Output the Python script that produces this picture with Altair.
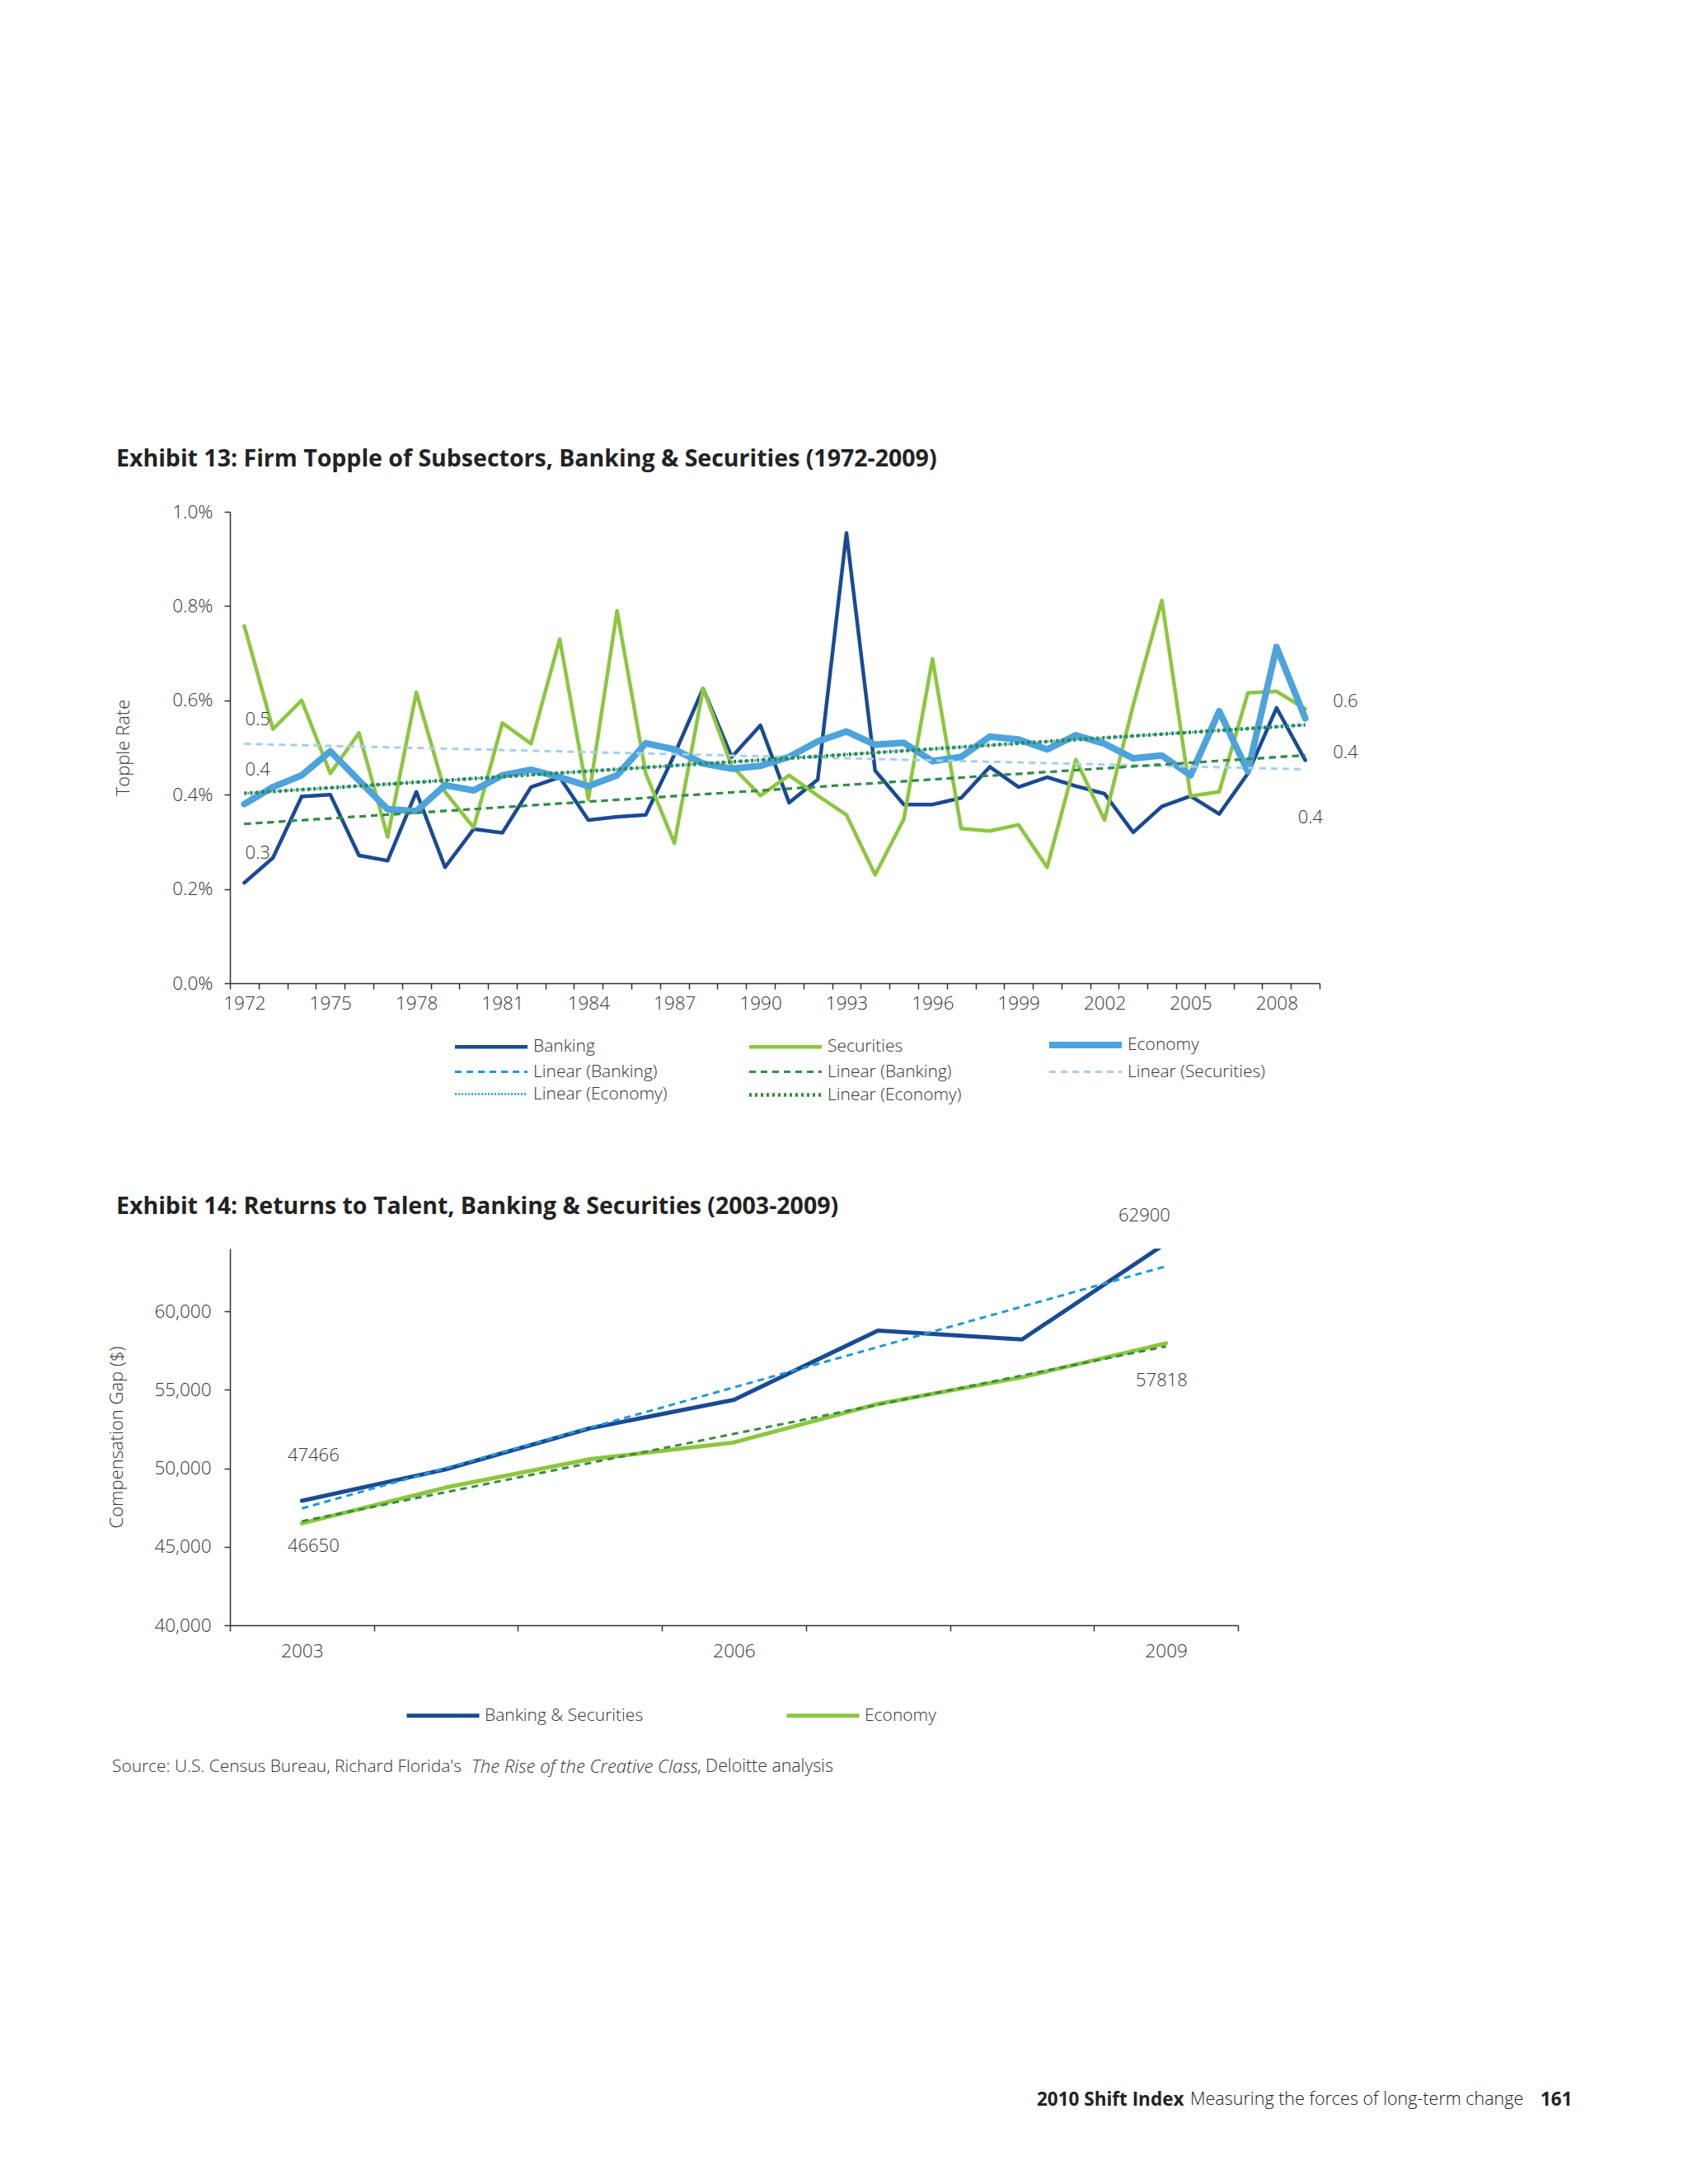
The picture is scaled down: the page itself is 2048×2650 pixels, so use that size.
import altair as alt
import pandas as pd

# ---------------- Exhibit 13: Firm Topple (1972-2009) ----------------
years13 = list(range(1972, 2010))
banking13 = [0.213, 0.266, 0.396, 0.400, 0.271, 0.260, 0.406, 0.246, 0.327, 0.319,
             0.416, 0.437, 0.346, 0.353, 0.357, 0.485, 0.625, 0.480, 0.547, 0.383,
             0.432, 0.955, 0.451, 0.379, 0.379, 0.393, 0.459, 0.416, 0.437, 0.418,
             0.402, 0.320, 0.375, 0.397, 0.359, 0.445, 0.584, 0.473]
securities13 = [0.758, 0.539, 0.600, 0.445, 0.531, 0.310, 0.617, 0.406, 0.330, 0.552,
                0.508, 0.730, 0.390, 0.790, 0.445, 0.297, 0.625, 0.461, 0.398, 0.441,
                0.398, 0.357, 0.230, 0.348, 0.688, 0.328, 0.323, 0.336, 0.246, 0.474,
                0.346, 0.590, 0.812, 0.397, 0.406, 0.616, 0.619, 0.582]
economy13 = [0.380, 0.416, 0.441, 0.492, 0.430, 0.369, 0.365, 0.420, 0.409, 0.441,
             0.453, 0.437, 0.418, 0.441, 0.509, 0.496, 0.466, 0.455, 0.461, 0.480,
             0.513, 0.534, 0.506, 0.510, 0.471, 0.480, 0.523, 0.517, 0.496, 0.526,
             0.508, 0.477, 0.483, 0.441, 0.577, 0.449, 0.713, 0.562]
label_years13 = [1972, 1975, 1978, 1981, 1984, 1987, 1990, 1993, 1996, 1999, 2002, 2005, 2008]
yticks13 = [0.0, 0.2, 0.4, 0.6, 0.8, 1.0]

keys13 = ["Banking", "Securities", "Economy",
          "Linear (Banking)|blue", "Linear (Banking)|green", "Linear (Securities)|blue",
          "Linear (Economy)|blue", "Linear (Economy)|green"]
colors13 = ["#1A4A93", "#8DC63F", "#4DA3DC", "#1E9AD6", "#3A8C3F", "#A7CFEA", "#1E9AD6", "#2F8A3B"]
dash13 = [[1, 0], [1, 0], [1, 0], [8, 6], [8, 6], [8, 6], [2, 2], [3, 4]]
width13 = [4.5, 4.5, 8, 3, 3, 3, 2.5, 4.5]

ann13_years = [1972.47, 1972.47, 1972.47, 2010.4, 2010.4, 2009.18]
ann13_values = [0.559, 0.453, 0.277, 0.598, 0.490, 0.352]
ann13_labels = ["0.5", "0.4", "0.3", "0.6", "0.4", "0.4"]

title13 = "Exhibit 13: Firm Topple of Subsectors, Banking & Securities (1972-2009)"

# ---------------- Exhibit 14: Returns to Talent (2003-2009) ----------------
years14 = list(range(2003, 2010))
bank14 = [47930, 49940, 52550, 54360, 58780, 58210, 64340]
econ14 = [46490, 48780, 50580, 51650, 54100, 55800, 57970]
label_years14 = [2003, 2006, 2009]
yticks14 = [40000, 45000, 50000, 55000, 60000]
keys14 = ["Banking & Securities", "Economy"]
colors14 = ["#1A4A93", "#8DC63F"]

ann14_years = [2003.08, 2003.08, 2008.85, 2008.97]
ann14_values = [50810, 45040, 66080, 55580]
ann14_labels = ["47466", "46650", "62900", "57818"]

title14 = "Exhibit 14: Returns to Talent, Banking & Securities (2003-2009)"
source_parts = ["Source: U.S. Census Bureau, Richard Florida's", "The Rise of the Creative Class", ", Deloitte analysis"]
footer_parts = ["2010 Shift Index", "Measuring the forces of long-term change", "161"]

FONT = "Open Sans"
TITLE_FONT = "Open Sans"
TXT = "#333333"
LIGHT = 300

# ---------------- build Exhibit 13 ----------------
rows = []
for name, vals in (("Banking", banking13), ("Securities", securities13), ("Economy", economy13)):
    for yr, v in zip(years13, vals):
        rows.append({"year": yr, "value": v, "series": name})
df13 = pd.DataFrame(rows)

edges13 = [y - 0.5 for y in years13] + [years13[-1] + 0.5]
X13 = alt.X("year:Q",
            scale=alt.Scale(domain=[edges13[0], edges13[-1]], nice=False, zero=False),
            axis=alt.Axis(values=edges13 + label_years13,
                          labelExpr="datum.value % 1 == 0 ? toString(datum.value) : ''",
                          tickOpacity={"condition": {"test": "datum.value % 1 == 0", "value": 0}, "value": 1},
                          tickSize=7, labelPadding=6, labelOverlap=False, labelFlush=False,
                          labelBound=False, grid=False),
            title=None)
Y13 = alt.Y("value:Q",
            scale=alt.Scale(domain=[0, 1], nice=False, zero=False),
            axis=alt.Axis(values=yticks13, labelExpr="format(datum.value, '.1f') + '%'",
                          tickSize=7, labelPadding=14, titlePadding=47, grid=False),
            title="Topple Rate")
legend13 = alt.Legend(title=None, orient="none", legendX=269, legendY=632, columns=3,
                      direction="horizontal",
                      symbolType="M-1,0L7,0", symbolSize=484, labelOffset=69,
                      labelFont=FONT, labelFontSize=21, labelFontWeight=LIGHT, labelColor=TXT,
                      labelLimit=400, rowPadding=4, columnPadding=90, padding=0,
                      labelExpr="split(datum.label, '|')[0]")
enc13 = dict(
    x=X13, y=Y13,
    color=alt.Color("series:N", scale=alt.Scale(domain=keys13, range=colors13), legend=legend13),
    strokeDash=alt.StrokeDash("series:N", scale=alt.Scale(domain=keys13, range=dash13), legend=legend13),
    strokeWidth=alt.StrokeWidth("series:N", scale=alt.Scale(type="ordinal", domain=keys13, range=width13),
                                legend=legend13),
)

layers13 = []
for name in ["Banking", "Securities", "Economy"]:
    layers13.append(alt.Chart(df13).transform_filter(alt.datum.series == name)
                    .mark_line(strokeJoin="round", strokeCap="round").encode(**enc13))


def trend13(src, key):
    return (alt.Chart(df13).transform_filter(alt.datum.series == src)
            .transform_regression("year", "value")
            .transform_calculate(series="'" + key + "'")
            .mark_line(strokeCap="butt").encode(**enc13))


layers13 += [
    trend13("Securities", "Linear (Securities)|blue"),
    trend13("Banking", "Linear (Banking)|blue"),
    trend13("Banking", "Linear (Banking)|green"),
    trend13("Economy", "Linear (Economy)|blue"),
    trend13("Economy", "Linear (Economy)|green"),
]

ann13 = pd.DataFrame({"year": ann13_years, "value": ann13_values, "label": ann13_labels})
layers13.append(alt.Chart(ann13).mark_text(font=FONT, fontSize=22, fontWeight=LIGHT, color=TXT,
                                           align="center", baseline="middle")
                .encode(x=X13, y=Y13, text="label:N"))
layers13.append(alt.Chart(pd.DataFrame({"t": [title13]}))
                .mark_text(font=TITLE_FONT, fontSize=28.5, fontWeight="bold", color="#222222",
                           align="left", baseline="middle")
                .encode(x=alt.value(-138), y=alt.value(-64), text="t:N"))

chart13 = alt.layer(*layers13).properties(width=1322, height=572)

# ---------------- build Exhibit 14 ----------------
rows = []
for name, vals in zip(keys14, (bank14, econ14)):
    for yr, v in zip(years14, vals):
        rows.append({"year": yr, "value": v, "series": name})
df14 = pd.DataFrame(rows)

edges14 = [y - 0.5 for y in years14] + [years14[-1] + 0.5]
X14 = alt.X("year:Q",
            scale=alt.Scale(domain=[edges14[0], edges14[-1]], nice=False, zero=False),
            axis=alt.Axis(values=edges14 + label_years14,
                          labelExpr="datum.value % 1 == 0 ? toString(datum.value) : ''",
                          tickOpacity={"condition": {"test": "datum.value % 1 == 0", "value": 0}, "value": 1},
                          tickSize=7, labelPadding=13, labelOverlap=False, labelFlush=False,
                          labelBound=False, grid=False),
            title=None)
Y14 = alt.Y("value:Q",
            scale=alt.Scale(domain=[40000, 64000], nice=False, zero=False),
            axis=alt.Axis(values=yticks14, format=",d", tickSize=7, labelPadding=16,
                          titlePadding=33, grid=False),
            title="Compensation Gap ($)")
legend14 = alt.Legend(title=None, orient="none", legendX=212, legendY=553, columns=2,
                      direction="horizontal",
                      symbolType="M-1,0L7,0", symbolSize=484, labelOffset=70,
                      symbolStrokeWidth=5,
                      labelFont=FONT, labelFontSize=21, labelFontWeight=LIGHT, labelColor=TXT,
                      labelLimit=400, columnPadding=163, padding=0)

layers14 = []
for name in keys14:
    layers14.append(alt.Chart(df14).transform_filter(alt.datum.series == name)
                    .mark_line(strokeWidth=5, strokeJoin="round", strokeCap="round", clip=True)
                    .encode(x=X14, y=Y14,
                            color=alt.Color("series:N", scale=alt.Scale(domain=keys14, range=colors14),
                                            legend=legend14)))
for name, col in zip(keys14, ["#1E9AD6", "#3A8C3F"]):
    layers14.append(alt.Chart(df14).transform_filter(alt.datum.series == name)
                    .transform_regression("year", "value")
                    .mark_line(strokeWidth=3, strokeDash=[8, 6], color=col, clip=True)
                    .encode(x=X14, y=Y14))

ann14 = pd.DataFrame({"year": ann14_years, "value": ann14_values, "label": ann14_labels})
layers14.append(alt.Chart(ann14).mark_text(font=FONT, fontSize=22, fontWeight=LIGHT, color=TXT,
                                           align="center", baseline="middle")
                .encode(x=X14, y=Y14, text="label:N"))
layers14.append(alt.Chart(pd.DataFrame({"t": [title14]}))
                .mark_text(font=TITLE_FONT, fontSize=28.5, fontWeight="bold", color="#222222",
                           align="left", baseline="middle")
                .encode(x=alt.value(-138), y=alt.value(-51), text="t:N"))

src_df = pd.DataFrame({"t": source_parts, "px": [-143, 293, 567], "st": ["normal", "italic", "normal"],
                       "fs": [20.9, 22.0, 21.3]})
for i in range(3):
    layers14.append(alt.Chart(src_df.iloc[[i]])
                    .mark_text(font=FONT, fontSize=float(src_df["fs"][i]), fontWeight=LIGHT, color=TXT,
                               align="left", baseline="middle", fontStyle=src_df["st"][i])
                    .encode(x=alt.value(int(src_df["px"][i])), y=alt.value(629), text="t:N"))

foot_df = pd.DataFrame({"t": footer_parts, "px": [979, 1165, 1590], "wt": ["bold", "300", "bold"],
                        "fs": [22.5, 21.5, 22.5]})
for i in range(3):
    wt = foot_df["wt"][i]
    layers14.append(alt.Chart(foot_df.iloc[[i]])
                    .mark_text(font=FONT, fontSize=float(foot_df["fs"][i]), color="#222222", align="left",
                               baseline="middle", fontWeight=(int(wt) if wt.isdigit() else wt))
                    .encode(x=alt.value(int(foot_df["px"][i])), y=alt.value(1033), text="t:N"))

chart14 = alt.layer(*layers14).properties(width=1223, height=457)

chart = (alt.concat(chart13, chart14, columns=1, spacing=111)
         .resolve_scale(color="independent", strokeDash="independent", strokeWidth="independent")
         .resolve_legend(color="independent", strokeDash="independent", strokeWidth="independent")
         .properties(padding={"left": 122, "top": 535, "right": 20, "bottom": 20})
         .configure(background="#ffffff")
         .configure_view(stroke=None)
         .configure_axis(labelFont=FONT, labelFontSize=22.5, labelFontWeight=LIGHT, labelColor=TXT,
                         titleFont=FONT, titleFontSize=22, titleFontWeight=LIGHT, titleColor=TXT,
                         domainColor="#333333", tickColor="#333333", domainWidth=1.5, tickWidth=1.5))

chart.save("out.html", embed_options={"renderer": "svg", "actions": False})
